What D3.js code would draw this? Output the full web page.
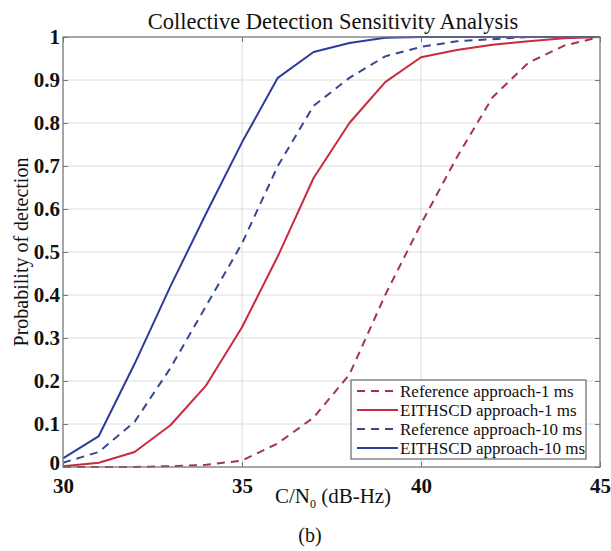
<!DOCTYPE html>
<html>
<head>
<meta charset="utf-8">
<script src="https://cdn.jsdelivr.net/npm/d3@7"></script>
<style>
  html, body { margin: 0; padding: 0; background: #fff; }
  svg { display: block; }
  text { font-family: "Liberation Serif", "Times New Roman", serif; fill: #111; }
</style>
</head>
<body>
<svg id="chart" width="611" height="551"></svg>
<script>
// ---- data ----
const snr = [30, 31, 32, 33, 34, 35, 36, 37, 38, 39, 40, 41, 42, 43, 44, 45];
const refOneMs  = [0, 0, 0, 0.002, 0.005, 0.015, 0.055, 0.115, 0.215, 0.40, 0.565, 0.72, 0.86, 0.94, 0.98, 1.0];
const eithOneMs = [0.002, 0.01, 0.035, 0.097, 0.19, 0.325, 0.49, 0.672, 0.80, 0.895, 0.953, 0.97, 0.982, 0.99, 0.997, 1.0];
const refTenMs  = [0.01, 0.035, 0.105, 0.23, 0.375, 0.52, 0.70, 0.84, 0.905, 0.955, 0.977, 0.99, 0.995, 1.0, 1.0, 1.0];
const eithTenMs = [0.02, 0.072, 0.24, 0.42, 0.59, 0.755, 0.905, 0.965, 0.986, 0.998, 1.0, 1.0, 1.0, 1.0, 1.0, 1.0];
const seriesNames = ["Reference approach-1 ms", "EITHSCD approach-1 ms", "Reference approach-10 ms", "EITHSCD approach-10 ms"];
const xTicks = [30, 35, 40, 45];
const yTicks = [0, 0.1, 0.2, 0.3, 0.4, 0.5, 0.6, 0.7, 0.8, 0.9, 1];
const titleText = "Collective Detection Sensitivity Analysis";
const yLabelText = "Probability of detection";
const captionText = "(b)";

// ---- layout ----
const L = 63, R = 600, T = 37, B = 467;
const svg = d3.select("#chart");
const x = d3.scaleLinear().domain([30, 45]).range([L, R]);
const y = d3.scaleLinear().domain([0, 1]).range([B, T]);

const styles = [
  { color: "#a3334f", dash: "8,6" },
  { color: "#c92a3e", dash: null },
  { color: "#34498e", dash: "8,6" },
  { color: "#2c3c9c", dash: null }
];
const seriesData = [refOneMs, eithOneMs, refTenMs, eithTenMs];

// grid
const grid = svg.append("g");
grid.selectAll("line.gy").data(yTicks.slice(1, -1)).enter().append("line")
  .attr("x1", L).attr("x2", R).attr("y1", d => y(d)).attr("y2", d => y(d))
  .attr("stroke", "#dcdcdc").attr("stroke-width", 1);
grid.selectAll("line.gx").data(xTicks.slice(1, -1)).enter().append("line")
  .attr("y1", T).attr("y2", B).attr("x1", d => x(d)).attr("x2", d => x(d))
  .attr("stroke", "#dcdcdc").attr("stroke-width", 1);

// lines
const line = d3.line().x((d, i) => x(snr[i])).y(d => y(d));
seriesData.forEach((s, k) => {
  svg.append("path").datum(s)
    .attr("d", line)
    .attr("fill", "none")
    .attr("stroke", styles[k].color)
    .attr("stroke-width", 2)
    .attr("stroke-dasharray", styles[k].dash)
    .attr("stroke-linejoin", "round");
});

// axes (inward ticks, MATLAB style)
const axB = d3.axisBottom(x).tickValues(xTicks).tickSize(-5).tickPadding(11).tickFormat(d3.format("d"));
const axL = d3.axisLeft(y).tickValues(yTicks).tickSize(-5).tickPadding(3)
  .tickFormat(d => (d === 0 || d === 1) ? String(d) : d.toFixed(1));
const axT = d3.axisTop(x).tickValues(xTicks).tickSize(-5).tickFormat("");
const axR = d3.axisRight(y).tickValues(yTicks).tickSize(-5).tickFormat("");

function styleAxis(g) {
  g.select(".domain").remove();
  g.selectAll(".tick line").attr("stroke", "#777");
  g.selectAll(".tick text").style("font-family", "'Liberation Serif', serif")
    .style("font-size", "21px").style("font-weight", "bold").attr("fill", "#1a1a1a");
}
svg.append("g").attr("transform", `translate(0,${B})`).call(axB).call(styleAxis);
const gL = svg.append("g").attr("transform", `translate(${L},0)`).call(axL).call(styleAxis);
gL.selectAll(".tick text").filter(d => d === 0).attr("dy", "0.12em");
svg.append("g").attr("transform", `translate(0,${T})`).call(axT).call(styleAxis);
svg.append("g").attr("transform", `translate(${R},0)`).call(axR).call(styleAxis);

// box
svg.append("rect").attr("x", L).attr("y", T).attr("width", R - L).attr("height", B - T)
  .attr("fill", "none").attr("stroke", "#777").attr("stroke-width", 1.3);

// legend
const lg = svg.append("g");
const lgX = 351, lgY = 380, lgW = 235, lgH = 79;
lg.append("rect").attr("x", lgX).attr("y", lgY).attr("width", lgW).attr("height", lgH)
  .attr("fill", "#fff").attr("stroke", "#666").attr("stroke-width", 1.2);
seriesNames.forEach((name, k) => {
  const cy = lgY + 11 + k * 19;
  lg.append("line").attr("x1", lgX + 6).attr("x2", lgX + 47).attr("y1", cy).attr("y2", cy)
    .attr("stroke", styles[k].color).attr("stroke-width", 2)
    .attr("stroke-dasharray", styles[k].dash);
  lg.append("text").attr("x", lgX + 49).attr("y", cy).attr("dy", "0.35em")
    .style("font-size", "17px").text(name);
});

// title
svg.append("text").attr("x", 333).attr("y", 29).attr("text-anchor", "middle")
  .style("font-size", "22.5px").text(titleText);

// y label
svg.append("text").attr("transform", `translate(28,${(T + B) / 2}) rotate(-90)`)
  .attr("text-anchor", "middle").style("font-size", "20px").text(yLabelText);

// x label with subscript
const xl = svg.append("text").attr("x", 333).attr("y", 503).attr("text-anchor", "middle").style("font-size", "21px");
xl.append("tspan").text("C/N");
xl.append("tspan").attr("dy", 5).style("font-size", "12px").text("0");
xl.append("tspan").attr("dy", -5).text(" (dB-Hz)");

// caption
svg.append("text").attr("x", 310).attr("y", 542).attr("text-anchor", "middle")
  .style("font-size", "20px").text(captionText);
</script>
</body>
</html>
